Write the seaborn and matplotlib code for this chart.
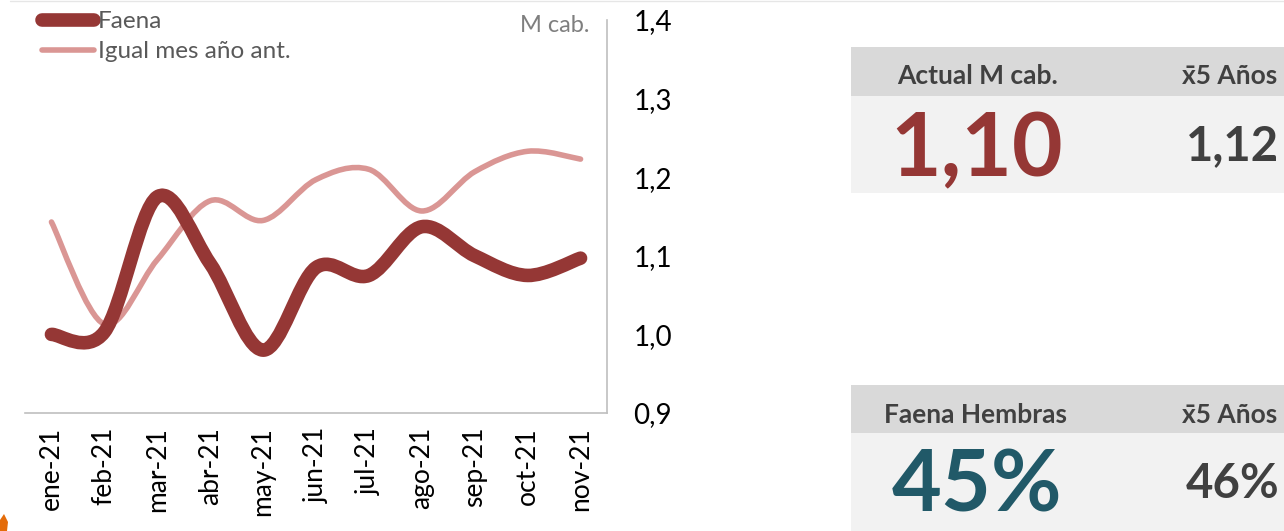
import numpy as np
import matplotlib
matplotlib.use("Agg")
import matplotlib.pyplot as plt
from matplotlib.path import Path
from matplotlib.patches import PathPatch, Rectangle, Polygon
from matplotlib.lines import Line2D
import seaborn as sns

# data
months = ['ene-21', 'feb-21', 'mar-21', 'abr-21', 'may-21', 'jun-21',
          'jul-21', 'ago-21', 'sep-21', 'oct-21', 'nov-21']
faena = [1.000, 1.003, 1.175, 1.090, 0.980, 1.085, 1.075, 1.137, 1.100, 1.075, 1.097]
igual_mes = [1.143, 1.013, 1.095, 1.170, 1.145, 1.197, 1.210, 1.157, 1.207, 1.233, 1.223]
y_ticks = [0.9, 1.0, 1.1, 1.2, 1.3, 1.4]
y_tick_labels = ['0,9', '1,0', '1,1', '1,2', '1,3', '1,4']

actual_val = '1,10'
actual_avg = '1,12'
hembras_val = '45%'
hembras_avg = '46%'

DARK = '#953735'
LIGHT = '#da9694'
TEAL = '#215968'
GRID = '#bfbfbf'
TXT = '#404040'

W, H = 1284, 531


def fx(x):
    return x / W


def fy(y):
    return 1 - y / H


def smooth_path(values):
    # Excel-style smoothed line: cubic bezier segments (Catmull-Rom control points)
    pts = np.column_stack([np.arange(len(values)), values]).astype(float)
    ext = np.vstack([pts[0], pts, pts[-1]])
    verts = [pts[0]]
    codes = [Path.MOVETO]
    for i in range(len(pts) - 1):
        p0, p1, p2, p3 = ext[i], ext[i + 1], ext[i + 2], ext[i + 3]
        verts += [p1 + (p2 - p0) / 6, p2 - (p3 - p1) / 6, p2]
        codes += [Path.CURVE4] * 3
    return Path(verts, codes)


sns.set_theme(style="white")
plt.rcParams['font.family'] = ['Lato', 'DejaVu Sans']

fig = plt.figure(figsize=(W / 100, H / 100), dpi=100)
ax = fig.add_axes([fx(25), fy(413), fx(607 - 25), (413 - 20) / H])

LW_DARK, LW_LIGHT = 9.8, 4.0
for vals, col, lw in [(igual_mes, LIGHT, LW_LIGHT), (faena, DARK, LW_DARK)]:
    patch = PathPatch(smooth_path(vals), facecolor='none', edgecolor=col, lw=lw,
                      capstyle='round', joinstyle='round', transform=ax.transData)
    ax.add_patch(patch)

ax.set_xlim(-0.5, len(months) - 0.5)
ax.set_ylim(0.9, 1.4)

# category boundaries as ticks, labels in the middle
ax.set_xticks(np.arange(len(months) + 1) - 0.5)
ax.set_xticklabels([])
ax.set_xticks(np.arange(len(months)), minor=True)
ax.set_xticklabels(months, minor=True, rotation=90, fontsize=19, color='black',
                   va='top', ha='center')
ax.tick_params(axis='x', which='major', length=7, width=1.2, color=GRID, direction='out')
ax.tick_params(axis='x', which='minor', length=0, pad=10)

ax.yaxis.tick_right()
ax.set_yticks(y_ticks)
ax.set_yticklabels(y_tick_labels, fontsize=20, color='black')
ax.tick_params(axis='y', length=7, width=1.2, color=GRID, direction='out', pad=12)

sns.despine(ax=ax, left=True, right=False, top=True, bottom=False)
for s in ['right', 'bottom']:
    ax.spines[s].set_color(GRID)
    ax.spines[s].set_linewidth(1.2)
ax.set_facecolor('none')

ax.text(fx(590), fy(26), 'M cab.', transform=fig.transFigure, ha='right', va='center',
        fontsize=17, color='#7f7f7f')

handles = [Line2D([], [], color=DARK, lw=LW_DARK, solid_capstyle='round'),
           Line2D([], [], color=LIGHT, lw=LW_LIGHT, solid_capstyle='round')]
leg = fig.legend(handles, ['Faena', 'Igual mes año ant.'], loc='upper left',
                 bbox_to_anchor=(fx(42), fy(11)), frameon=False, fontsize=17.5,
                 handlelength=2.15, handletextpad=0.15, labelspacing=0.37,
                 borderaxespad=0, borderpad=0)
for t in leg.get_texts():
    t.set_color('#595959')

# right-hand summary panels
for top, mid, bot in [(47, 96, 193), (385, 433, 531)]:
    fig.patches.append(Rectangle((fx(851), fy(mid)), fx(W - 851), (mid - top) / H,
                                 transform=fig.transFigure, facecolor='#d9d9d9',
                                 edgecolor='none', zorder=0))
    fig.patches.append(Rectangle((fx(851), fy(bot)), fx(W - 851), (bot - mid) / H,
                                 transform=fig.transFigure, facecolor='#f2f2f2',
                                 edgecolor='none', zorder=0))

hdr = dict(fontsize=19, fontweight='bold', color=TXT, transform=fig.transFigure)
fig.text(fx(978), fy(84), 'Actual M cab.', ha='center', va='baseline', **hdr)
fig.text(fx(1277), fy(84), 'x\u03045 Años', ha='right', va='baseline', **hdr)
fig.text(fx(975), fy(423), 'Faena Hembras', ha='center', va='baseline', **hdr)
fig.text(fx(1277), fy(423), 'x\u03045 Años', ha='right', va='baseline', **hdr)

fig.text(fx(977), fy(176), actual_val, ha='center', va='baseline', fontsize=63,
         fontweight='bold', color=DARK)
fig.text(fx(1279), fy(160), actual_avg, ha='right', va='baseline', fontsize=34,
         fontweight='bold', color=TXT)
fig.text(fx(977), fy(512), hembras_val, ha='center', va='baseline', fontsize=62,
         fontweight='bold', color=TEAL)
fig.text(fx(1279), fy(498), hembras_avg, ha='right', va='baseline', fontsize=34,
         fontweight='bold', color=TXT)

# thin top border and corner fragment
fig.add_artist(Line2D([fx(10), 1], [fy(1), fy(1)], color='#e6e6e6', lw=1,
                      transform=fig.transFigure))
fig.patches.append(Polygon([(0, fy(531)), (0, fy(520)), (fx(4), fy(514)), (fx(8), fy(522)),
                            (fx(7), fy(531))], closed=True, transform=fig.transFigure,
                           facecolor='#e46c0a', edgecolor='none'))

fig.savefig('out.png', dpi=100)
